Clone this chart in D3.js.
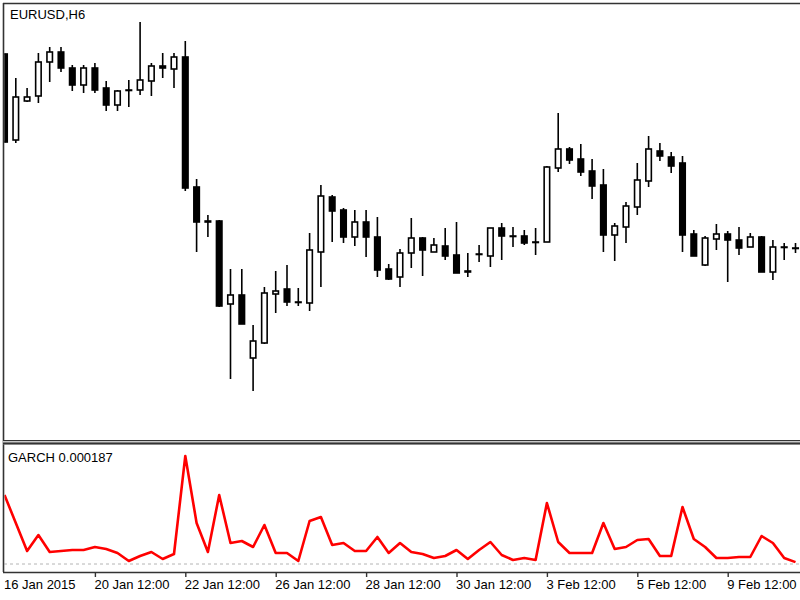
<!DOCTYPE html>
<html>
<head>
<meta charset="utf-8">
<script src="https://cdn.jsdelivr.net/npm/d3@7"></script>
<style>
  html, body { margin: 0; padding: 0; background: #fff; }
  svg { display: block; }
  text { font-family: "Liberation Sans", Arial, sans-serif; font-size: 13px; fill: #000; }
</style>
</head>
<body>
<svg id="chart" width="800" height="600"></svg>
<script>
// ---- Data (EURUSD, H6) ----
const symbol = "EURUSD,H6";
const opens = [1.1692,1.1520,1.1598,1.1608,1.1676,1.1696,1.1664,1.1630,1.1664,1.1624,1.1590,1.1619,1.1620,1.1638,1.1668,1.1662,1.1686,1.1426,1.1358,1.1358,1.1192,1.1210,1.1084,1.1114,1.1212,1.1222,1.1196,1.1194,1.1296,1.1406,1.1380,1.1326,1.1356,1.1326,1.1262,1.1246,1.1294,1.1324,1.1296,1.1308,1.1290,1.1258,1.1291,1.1288,1.1344,1.1328,1.1328,1.1316,1.1316,1.1464,1.1502,1.1482,1.1458,1.1430,1.1330,1.1346,1.1386,1.1438,1.1498,1.1486,1.1474,1.1332,1.1270,1.1322,1.1332,1.1320,1.1306,1.1326,1.1256,1.1306,1.1304];
const highs = [1.1694,1.1644,1.1624,1.1694,1.1706,1.1706,1.1670,1.1670,1.1674,1.1638,1.1620,1.1640,1.1756,1.1674,1.1694,1.1694,1.1718,1.1442,1.1370,1.1360,1.1262,1.1262,1.1150,1.1226,1.1258,1.1270,1.1224,1.1334,1.1430,1.1410,1.1384,1.1380,1.1380,1.1366,1.1272,1.1302,1.1364,1.1326,1.1324,1.1344,1.1356,1.1294,1.1310,1.1344,1.1354,1.1346,1.1340,1.1344,1.1468,1.1574,1.1506,1.1512,1.1482,1.1462,1.1354,1.1396,1.1474,1.1528,1.1514,1.1496,1.1488,1.1340,1.1328,1.1352,1.1338,1.1346,1.1334,1.1328,1.1320,1.1314,1.1314];
const lows = [1.1514,1.1514,1.1596,1.1594,1.1636,1.1656,1.1618,1.1614,1.1614,1.1578,1.1578,1.1586,1.1610,1.1608,1.1644,1.1624,1.1418,1.1296,1.1326,1.1186,1.1042,1.1152,1.1018,1.1112,1.1174,1.1188,1.1188,1.1178,1.1226,1.1316,1.1314,1.1308,1.1286,1.1246,1.1240,1.1226,1.1264,1.1248,1.1296,1.1280,1.1254,1.1246,1.1276,1.1266,1.1280,1.1306,1.1310,1.1290,1.1316,1.1456,1.1472,1.1448,1.1402,1.1296,1.1278,1.1314,1.1370,1.1426,1.1478,1.1454,1.1296,1.1288,1.1268,1.1300,1.1236,1.1290,1.1306,1.1256,1.1240,1.1280,1.1294];
const closes = [1.1516,1.1606,1.1606,1.1676,1.1696,1.1664,1.1630,1.1664,1.1620,1.1590,1.1618,1.1620,1.1640,1.1668,1.1664,1.1686,1.1424,1.1356,1.1356,1.1188,1.1210,1.1152,1.1118,1.1214,1.1218,1.1196,1.1195,1.1300,1.1408,1.1378,1.1326,1.1356,1.1326,1.1260,1.1242,1.1294,1.1324,1.1300,1.1310,1.1288,1.1254,1.1256,1.1292,1.1344,1.1328,1.1327,1.1314,1.1315,1.1466,1.1502,1.1480,1.1456,1.1428,1.1330,1.1348,1.1388,1.1440,1.1502,1.1488,1.1468,1.1330,1.1288,1.1324,1.1332,1.1320,1.1304,1.1326,1.1256,1.1306,1.1305,1.1304];
const garch = [0.0069,0.0041,0.0013,0.0029,0.0012,0.0013,0.0014,0.0014,0.0017,0.0015,0.0011,0.0003,0.0008,0.0012,0.0005,0.0010,0.0108,0.0041,0.0012,0.0069,0.0021,0.0023,0.0017,0.0039,0.0011,0.0011,0.0003,0.0043,0.0047,0.0019,0.0021,0.0013,0.0013,0.0027,0.0011,0.0021,0.0012,0.0010,0.0006,0.0008,0.0014,0.0005,0.0014,0.0022,0.0009,0.0004,0.0006,0.0004,0.0061,0.0022,0.0011,0.0011,0.0011,0.0041,0.0015,0.0017,0.0024,0.0025,0.0008,0.0008,0.0057,0.0025,0.0017,0.0006,0.0006,0.0007,0.0007,0.0028,0.0021,0.0006,0.000187];
const garchLevel = 0;
const tickIndex = [0, 8, 16, 24, 32, 40, 48, 56, 64];
const tickLabels = ["16 Jan 2015","20 Jan 12:00","22 Jan 12:00","26 Jan 12:00","28 Jan 12:00","30 Jan 12:00","3 Feb 12:00","5 Feb 12:00","9 Feb 12:00"];

// ---- Layout ----
const W = 800, H = 600;
const frameLeft = 3.5, frameTop = 3.5;
const mainBottom = 440, subTop = 443, axisY = 572;

const svg = d3.select("#chart");
svg.append("rect").attr("width", W).attr("height", H).attr("fill", "#fff");

const n = opens.length;
const bars = d3.range(n).map(i => ({i, o: opens[i], h: highs[i], l: lows[i], c: closes[i], g: garch[i]}));

const x = d3.scaleLinear().domain([0, 70]).range([4.5, 795.5]);
const y = d3.scaleLinear().domain([1.0920, 1.1794]).range([mainBottom, 3]);
const yg = d3.scaleLinear().domain([0, 0.0121]).range([564, subTop]);

const defs = svg.append("defs");
defs.append("clipPath").attr("id", "clipMain").append("rect")
  .attr("x", 4.5).attr("y", 4.5).attr("width", W).attr("height", mainBottom - 4.5);
defs.append("clipPath").attr("id", "clipSub").append("rect")
  .attr("x", 4.5).attr("y", subTop + 1).attr("width", W).attr("height", axisY - subTop - 1);

// ---- Candles ----
const gMain = svg.append("g").attr("clip-path", "url(#clipMain)");
const candle = gMain.selectAll("g.candle").data(bars).join("g").attr("class", "candle");
candle.append("line")
  .attr("x1", d => x(d.i)).attr("x2", d => x(d.i))
  .attr("y1", d => y(d.h)).attr("y2", d => y(d.l))
  .attr("stroke", "#000").attr("stroke-width", 1.6);
candle.append("rect")
  .attr("x", d => x(d.i) - 2.75)
  .attr("width", 5.5)
  .attr("y", d => y(Math.max(d.o, d.c)))
  .attr("height", d => Math.max(0.5, Math.abs(y(d.o) - y(d.c))))
  .attr("fill", d => d.c > d.o ? "#fff" : "#000")
  .attr("stroke", "#000").attr("stroke-width", 1.6);

// ---- GARCH sub window ----
const gSub = svg.append("g").attr("clip-path", "url(#clipSub)");
gSub.append("line")
  .attr("x1", 4).attr("x2", W).attr("y1", yg(garchLevel)).attr("y2", yg(garchLevel))
  .attr("stroke", "#b4b4b4").attr("stroke-width", 1).attr("stroke-dasharray", "3,3");
gSub.append("path").datum(bars)
  .attr("fill", "none").attr("stroke", "#ff0000").attr("stroke-width", 2.6)
  .attr("stroke-linejoin", "round")
  .attr("d", d3.line().x(d => x(d.i)).y(d => yg(d.g)));

// ---- Frames ----
const frame = "#333";
svg.append("line").attr("x1", 3).attr("x2", W).attr("y1", frameTop).attr("y2", frameTop).attr("stroke", frame).attr("stroke-width", 1.6);
svg.append("line").attr("x1", frameLeft).attr("x2", frameLeft).attr("y1", 3).attr("y2", axisY).attr("stroke", frame).attr("stroke-width", 1.6);
svg.append("rect").attr("x", 3).attr("y", mainBottom).attr("width", W).attr("height", 4.5).attr("fill", "#c8c8c8");
svg.append("line").attr("x1", 3).attr("x2", W).attr("y1", mainBottom + 0.5).attr("y2", mainBottom + 0.5).attr("stroke", frame).attr("stroke-width", 1.2);
svg.append("line").attr("x1", 3).attr("x2", W).attr("y1", subTop + 0.5).attr("y2", subTop + 0.5).attr("stroke", frame).attr("stroke-width", 1.8);

// ---- Time axis ----
const axis = d3.axisBottom(x)
  .tickValues(tickIndex)
  .tickSize(5)
  .tickFormat((d, k) => tickLabels[k]);
const gAxis = svg.append("g").attr("transform", `translate(0,${axisY})`).call(axis);
gAxis.select(".domain").attr("d", `M3,0.5H${W}`).attr("stroke", frame).attr("stroke-width", 1.6);
gAxis.selectAll(".tick line").attr("stroke", frame).attr("stroke-width", 1.4)
  .attr("opacity", d => d === 0 ? 0 : 1);
gAxis.selectAll(".tick text")
  .attr("text-anchor", "start").attr("x", -1).attr("y", 8).attr("dy", "0.71em")
  .attr("fill", "#000")
  .style("font-family", "'Liberation Sans', Arial, sans-serif").style("font-size", "13px");

// ---- Labels ----
svg.append("text").attr("x", 10).attr("y", 19).text(symbol);
svg.append("text").attr("x", 8).attr("y", 462).text("GARCH " + d3.format(".6f")(garch[garch.length - 1]));
</script>
</body>
</html>
